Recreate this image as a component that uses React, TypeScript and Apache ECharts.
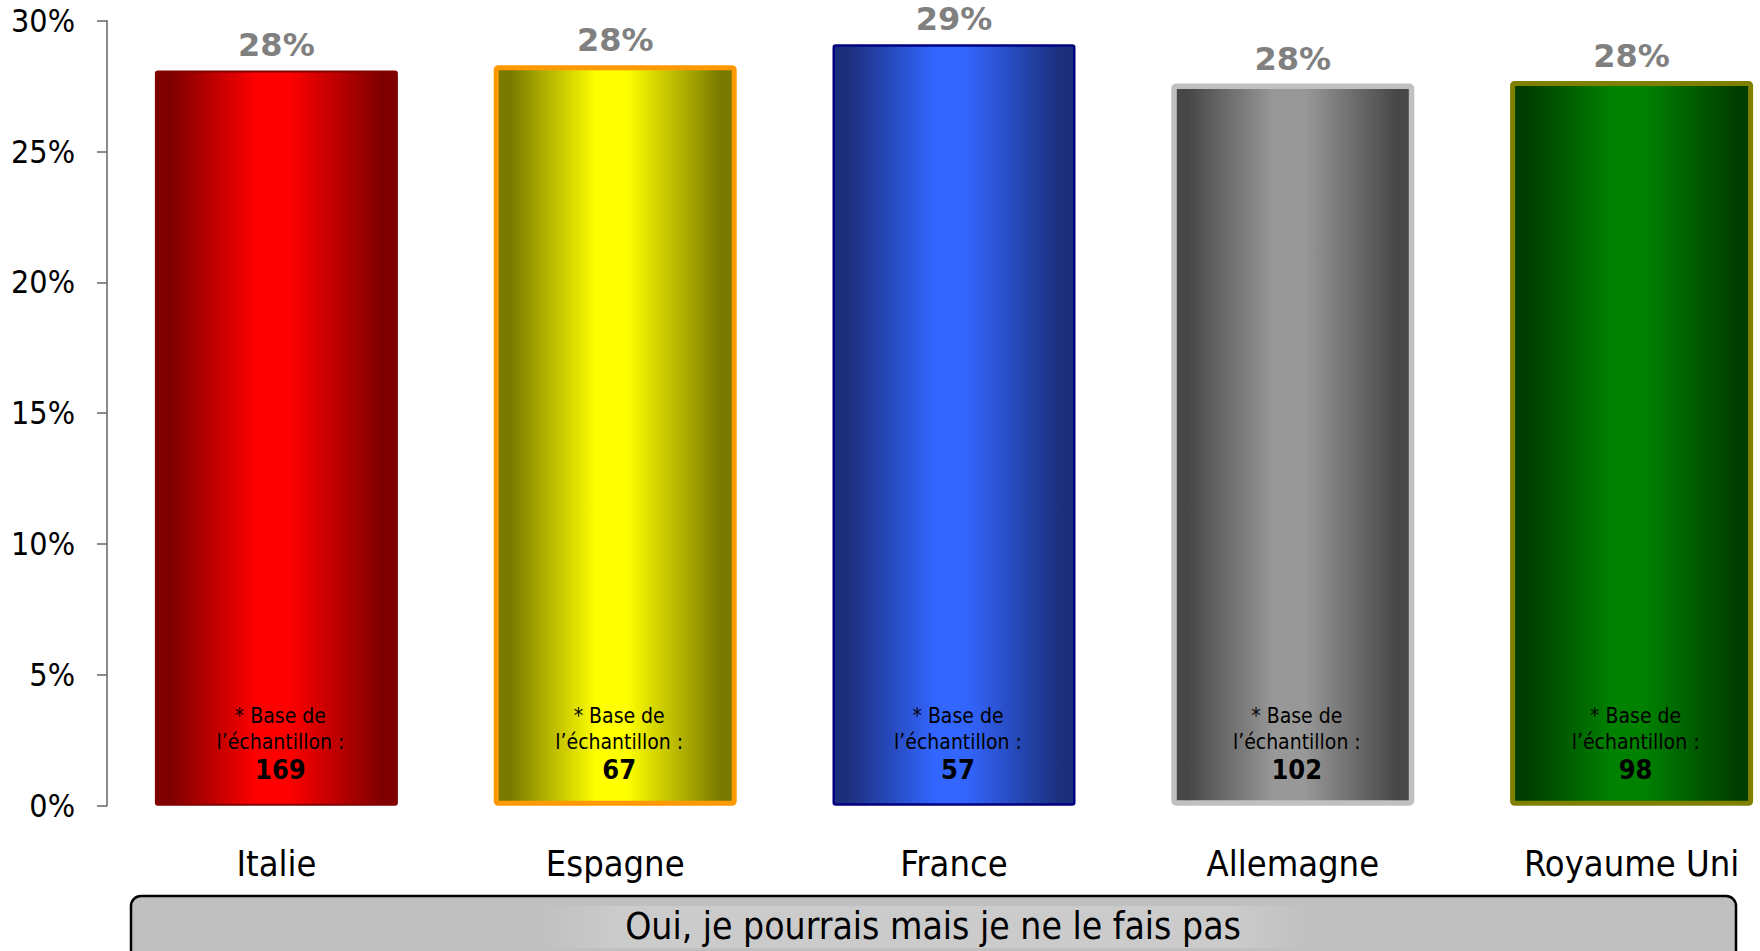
import React, { useEffect, useRef } from "react";
import * as echarts from "echarts";

const categories = ["Italie", "Espagne", "France", "Allemagne", "Royaume Uni"];
const values = [28.1, 28.3, 29.1, 27.6, 27.7];
const sampleSizes = [169, 67, 57, 102, 98];
const yTickStep = 5;
const yMax = 30;
const footerText = "Oui, je pourrais mais je ne le fais pas";

const darkColors = ["#7E0000", "#7A7A00", "#1C2F7C", "#474747", "#003D00"];
const brightColors = ["#FF0000", "#FFFF00", "#3366FF", "#989898", "#008200"];
const borderColors = ["#800000", "#FF9900", "#000080", "#C0C0C0", "#808000"];
const borderWidths = [2, 5, 2.5, 5.5, 5];

const FONT = "'DejaVu Sans Condensed', 'DejaVu Sans', sans-serif";
const FONT_WIDE = "'DejaVu Sans', sans-serif";

function grad(dark: string, bright: string) {
  return new echarts.graphic.LinearGradient(0, 0, 1, 0, [
    { offset: 0, color: dark },
    { offset: 0.06, color: dark },
    { offset: 0.42, color: bright },
    { offset: 0.55, color: bright },
    { offset: 0.94, color: dark },
    { offset: 1, color: dark },
  ]);
}

export default function App() {
  const ref = useRef<HTMLDivElement>(null);
  useEffect(() => {
    if (!ref.current) return;
    const chart = echarts.init(ref.current, undefined, { renderer: "svg" });
    const mainData = values.map((v, i) => ({
      value: v,
      itemStyle: {
        color: grad(darkColors[i], brightColors[i]),
        borderColor: borderColors[i],
        borderWidth: borderWidths[i],
        borderRadius: 2,
      },
    }));
    const innerData = values.map((v, i) => ({
      value: v,
      label: {
        formatter: `{a|* Base de}\n{a|l\u2019échantillon :}\n{b|${sampleSizes[i]}}`,
      },
    }));
    chart.setOption({
      animation: false,
      backgroundColor: "#ffffff",
      grid: { left: 107, top: 20.7, width: 1694, height: 785 },
      xAxis: {
        type: "category",
        data: categories,
        axisLine: { show: false },
        axisTick: { show: false },
        axisLabel: {
          color: "#000",
          fontFamily: FONT,
          fontSize: 36,
          margin: 40,
        },
      },
      yAxis: {
        type: "value",
        min: 0,
        max: yMax,
        interval: yTickStep,
        axisLine: { show: true, lineStyle: { color: "#666", width: 1.5 } },
        axisTick: { show: true, length: 10, lineStyle: { color: "#666", width: 1.5 } },
        splitLine: { show: false },
        axisLabel: {
          formatter: "{value}%",
          color: "#000",
          fontFamily: FONT,
          fontSize: 32,
          margin: 32,
        },
      },
      series: [
        {
          type: "bar",
          data: mainData,
          barWidth: 243,
          barGap: "-100%",
          z: 2,
          label: {
            show: true,
            position: "top",
            distance: 9,
            formatter: (p: any) => `${Math.round(p.value)}%`,
            color: "#808080",
            fontFamily: FONT_WIDE,
            fontWeight: "bold",
            fontSize: 32,
          },
        },
        {
          type: "bar",
          data: innerData,
          barWidth: 243,
          barGap: "-100%",
          silent: true,
          z: 3,
          itemStyle: { color: "rgba(0,0,0,0)" },
          label: {
            show: true,
            position: "insideBottom",
            distance: 21,
            offset: [4, 0],
            align: "center",
            rich: {
              a: { fontFamily: FONT, fontSize: 21, lineHeight: 26, color: "#000" },
              b: { fontFamily: FONT, fontSize: 27, fontWeight: "bold", lineHeight: 30, color: "#000" },
            },
          },
        },
      ],
      graphic: [
        {
          type: "rect",
          shape: { x: 131, y: 896, width: 1605, height: 90, r: 10 },
          style: { fill: "#C0C0C0", stroke: "#000", lineWidth: 2.5 },
          z: 10,
        },
        {
          type: "rect",
          shape: { x: 540, y: 906, width: 770, height: 42 },
          style: {
            fill: new echarts.graphic.LinearGradient(0, 0, 1, 0, [
              { offset: 0, color: "rgba(255,255,255,0)" },
              { offset: 0.1, color: "rgba(255,255,255,0.18)" },
              { offset: 0.9, color: "rgba(255,255,255,0.18)" },
              { offset: 1, color: "rgba(255,255,255,0)" },
            ]),
          },
          z: 11,
        },
        {
          type: "text",
          x: 933,
          y: 926,
          style: {
            text: footerText,
            fill: "#000",
            fontFamily: FONT,
            fontSize: 37,
            align: "center",
            verticalAlign: "middle",
          },
          z: 12,
        },
      ],
    });
    return () => chart.dispose();
  }, []);
  return (
    <div
      style={{
        position: "absolute",
        left: 0,
        top: 0,
        width: 1760,
        height: 951,
        overflow: "hidden",
      }}
    >
      <div ref={ref} style={{ width: 1840, height: 951 }} />
    </div>
  );
}
